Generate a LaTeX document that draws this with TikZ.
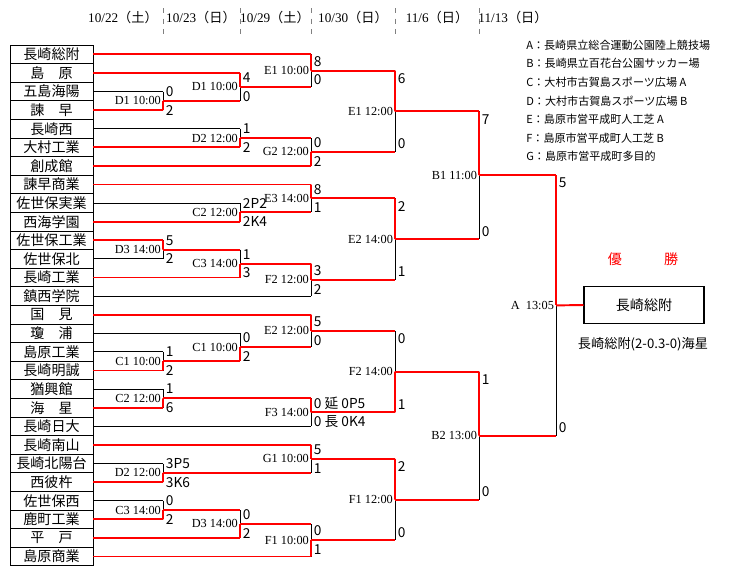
\documentclass[tikz,border=0pt]{standalone}
\usepackage{fontspec}
\setmainfont{Liberation Serif}
\newfontfamily\jp{Noto Sans CJK JP}
\usetikzlibrary{calc, positioning}

\tikzset{
  win/.style={draw=red, line width=1.1pt},
  lose/.style={draw=black, line width=0.5pt},
  team/.style={draw, line width=0.5pt, minimum width=1.66cm, minimum height=0.372cm, inner sep=0pt, font=\jp\fontsize{8}{9}\selectfont},
  lbl/.style={inner sep=1pt, font=\fontsize{7}{8}\selectfont},
  score/.style={inner sep=1.5pt, font=\jp\fontsize{7.8}{8}\selectfont},
  legend/.style={inner sep=0pt, anchor=west, font=\jp\fontsize{6.3}{7}\selectfont},
}

\newcommand\firstof[2]{#1}
\newcommand\secondof[2]{#2}
% name, x, top, bottom, top line, bottom line, winner (0 top / 1 bottom), label, scores
\newcommand\game[9]{%
  \coordinate (#1a) at (#2,0 |- #3);
  \coordinate (#1b) at (#2,0 |- #4);
  \coordinate (#1) at ($(#1a)!.5!(#1b)$);
  \draw[#5] (#3) -- (#1a);
  \draw[#6] (#4) -- (#1b);
  \draw[lose] (#1a) -- (#1b);
  \ifnum#7=0 \draw[win] (#1a) -- (#1); \else \draw[win] (#1b) -- (#1); \fi
  \node[lbl, anchor=east] at (#1) {#8};
  \path let \p1=(#1a), \p2=(#1b), \n1={max(0,min(4.5,(\y1-\y2)/2-5.3))} in
    node[score, anchor=west] at ($(#1a)+(0pt,-\n1)$) {\firstof#9}
    node[score, anchor=west] at ($(#1b)+(0pt,\n1)$) {\secondof#9};
}

\begin{document}
\begin{tikzpicture}[x=0.02cm, y=-0.02cm]

\useasboundingbox (0,0) rectangle (739,569);

% dates
\foreach \x in {163,240,311,395,479}
  \draw[gray, dashed, line width=0.4pt] (\x,8) -- (\x,35);
\foreach \x/\d/\w in {123/10\slash 22/土, 201/10\slash 23/日, 275/10\slash 29/土, 353/10\slash 30/日, 437/11\slash 6/日, 513/11\slash 13/日}
  \node[font=\fontsize{7.5}{8}\selectfont] at (\x,17) {\d{\jp（\w）}};

% teams
\foreach \n [count=\i from 0] in {長崎総附, 島　原, 五島海陽, 諫　早, 長崎西, 大村工業, 創成館,
  諫早商業, 佐世保実業, 西海学園, 佐世保工業, 佐世保北, 長崎工業, 鎮西学院,
  国　見, 瓊　浦, 島原工業, 長崎明誠, 猶興館, 海　星, 長崎日大,
  長崎南山, 長崎北陽台, 西彼杵, 佐世保西, 鹿町工業, 平　戸, 島原商業}
  \node[team] (t\i) at (51.5,{45+18.6*(\i+0.5)}) {\n};

% games
\game{ga}{163}{t2.east}{t3.east}{lose}{win}{1}{D1 10:00}{{0}{2}}
\game{gb}{240}{t1.east}{ga}{win}{win}{0}{D1 10:00}{{4}{0}}
\game{gc}{311}{t0.east}{gb}{win}{win}{0}{E1 10:00}{{8}{0}}
\game{gd}{240}{t4.east}{t5.east}{lose}{win}{1}{D2 12:00}{{1}{2}}
\game{ge}{311}{gd}{t6.east}{win}{win}{1}{G2 12:00}{{0}{2}}
\game{gf}{395}{gc}{ge}{win}{win}{0}{E1 12:00}{{6}{0}}
\game{gg}{240}{t8.east}{t9.east}{lose}{win}{1}{C2 12:00}{{2P2}{2K4}}
\game{gh}{311}{t7.east}{gg}{win}{win}{0}{E3 14:00}{{8}{1}}
\game{gi}{163}{t10.east}{t11.east}{win}{lose}{0}{D3 14:00}{{5}{2}}
\game{gj}{240}{gi}{t12.east}{win}{win}{1}{C3 14:00}{{1}{3}}
\game{gk}{311}{gj}{t13.east}{win}{lose}{0}{F2 12:00}{{3}{2}}
\game{gl}{395}{gh}{gk}{win}{win}{0}{E2 14:00}{{2}{1}}
\game{gm}{479}{gf}{gl}{win}{win}{0}{B1 11:00}{{7}{0}}
\game{gn}{163}{t16.east}{t17.east}{lose}{win}{1}{C1 10:00}{{1}{2}}
\game{go}{240}{t15.east}{gn}{lose}{win}{1}{C1 10:00}{{0}{2}}
\game{gp}{311}{t14.east}{go}{win}{win}{0}{E2 12:00}{{5}{0}}
\game{gq}{163}{t18.east}{t19.east}{lose}{win}{1}{C2 12:00}{{1}{6}}
\game{gr}{311}{gq}{t20.east}{win}{lose}{0}{F3 14:00}{{0 延 0P5}{0 長 0K4}}
\game{gs}{395}{gp}{gr}{win}{win}{1}{F2 14:00}{{0}{1}}
\game{gt}{163}{t22.east}{t23.east}{lose}{win}{1}{D2 12:00}{{3P5}{3K6}}
\game{gu}{311}{t21.east}{gt}{win}{win}{0}{G1 10:00}{{5}{1}}
\game{gv}{163}{t24.east}{t25.east}{lose}{win}{1}{C3 14:00}{{0}{2}}
\game{gw}{240}{gv}{t26.east}{win}{win}{1}{D3 14:00}{{0}{2}}
\game{gx}{311}{gw}{t27.east}{win}{win}{1}{F1 10:00}{{0}{1}}
\game{gy}{395}{gu}{gx}{win}{win}{0}{F1 12:00}{{2}{0}}
\game{gz}{479}{gs}{gy}{win}{win}{0}{B2 13:00}{{1}{0}}
\game{gfin}{556}{gm}{gz}{win}{win}{0}{A\ \ 13:05}{{5}{0}}

% champion
\node[draw, line width=0.6pt, minimum width=2.4cm, minimum height=0.74cm, font=\jp\fontsize{8}{9}\selectfont] (champ) at (644,305) {長崎総附};
\draw[win] (gfin) -- (champ.west);
\node[text=red, font=\jp\fontsize{8}{9}\selectfont] (yusho) at (643,259) {優　　　勝};
\node[font=\jp\fontsize{7.5}{8}\selectfont] (result) at (643,344) {長崎総附(2-0.3-0)海星};

% venues
\foreach \t [count=\i from 0] in {A：長崎県立総合運動公園陸上競技場, B：長崎県立百花台公園サッカー場,
  C：大村市古賀島スポーツ広場 A, D：大村市古賀島スポーツ広場 B, E：島原市営平成町人工芝 A,
  F：島原市営平成町人工芝 B, G：島原市営平成町多目的}
  \node[legend] (v\i) at (526,{45+18.6*\i}) {\t};

\end{tikzpicture}
\end{document}
